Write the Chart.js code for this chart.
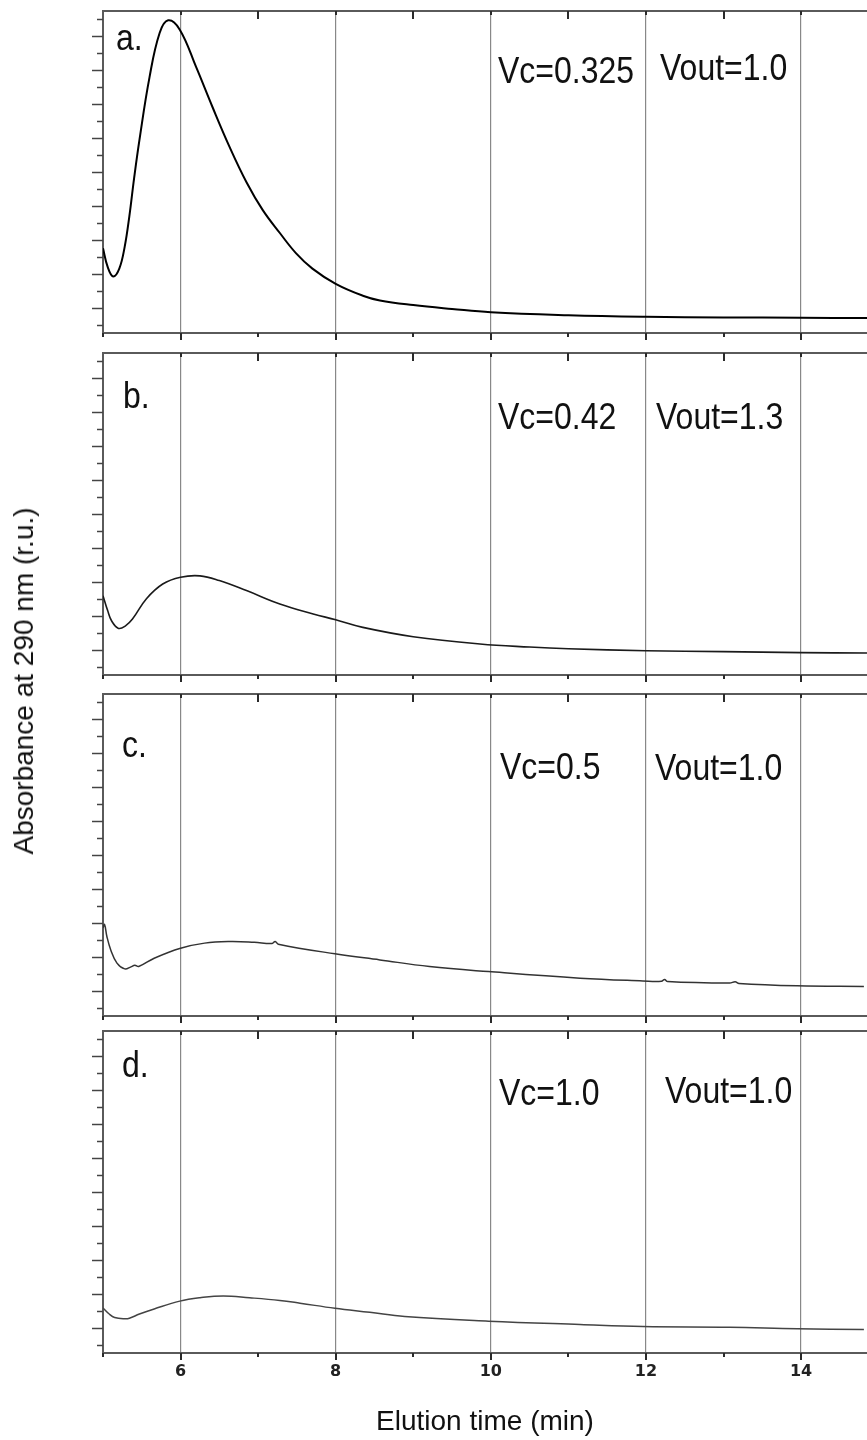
<!DOCTYPE html>
<html>
<head>
<meta charset="utf-8">
<script src="https://cdn.jsdelivr.net/npm/chart.js@4.4.1/dist/chart.umd.min.js"></script>
<style>
  html, body { margin: 0; padding: 0; background: #fff; }
  #wrap { position: relative; width: 867px; height: 1440px; overflow: hidden; }
  #wrap canvas { position: absolute; left: 0; }
  #ytitle {
    position: absolute; left: 24px; top: 681px;
    transform: translate(-50%, -50%) rotate(-90deg);
    font: 28px "Liberation Sans", Arial, sans-serif; color: #111; white-space: nowrap;
  }
</style>
</head>
<body>
<div id="wrap">
  <canvas id="panelA"></canvas>
  <canvas id="panelB"></canvas>
  <canvas id="panelC"></canvas>
  <canvas id="panelD"></canvas>
  <div id="ytitle">Absorbance at 290 nm (r.u.)</div>
</div>
<script>
// elution time (min) / absorbance (one unit = one minor tick)
const timeA = [5.0, 5.06, 5.13, 5.21, 5.28, 5.34, 5.4, 5.47, 5.6, 5.73, 5.84, 5.99, 6.2, 6.41, 6.63, 6.85, 7.06, 7.28, 7.49, 7.7, 8.0, 8.35, 8.57, 9.0, 9.5, 10, 11, 12, 13, 14, 14.85];
const absA  = [4.5, 3.4, 2.84, 3.3, 4.6, 6.4, 8.6, 10.9, 14.6, 17.2, 17.95, 17.4, 15.2, 12.85, 10.5, 8.4, 6.75, 5.4, 4.2, 3.3, 2.4, 1.7, 1.42, 1.15, 0.92, 0.72, 0.55, 0.46, 0.42, 0.4, 0.38];

const timeB = [5.0, 5.06, 5.11, 5.2, 5.29, 5.38, 5.56, 5.77, 6.0, 6.25, 6.5, 6.85, 7.28, 7.71, 8.0, 8.35, 9.0, 9.86, 10.5, 11, 12, 13, 14, 14.85];
const absB  = [4.18, 3.3, 2.7, 2.25, 2.4, 2.8, 4.0, 4.87, 5.27, 5.35, 5.07, 4.48, 3.69, 3.1, 2.76, 2.31, 1.76, 1.33, 1.15, 1.05, 0.93, 0.88, 0.82, 0.8];

const timeC = [5.0, 5.02, 5.05, 5.1, 5.18, 5.28, 5.36, 5.41, 5.46, 5.66, 6.0, 6.31, 6.63, 6.95, 7.18, 7.22, 7.26, 7.99, 8.57, 9.21, 9.97, 11.15, 11.96, 12.2, 12.24, 12.28, 13.08, 13.15, 13.2, 13.95, 14.81];
const absC  = [4.7, 4.9, 4.19, 3.4, 2.62, 2.28, 2.4, 2.5, 2.42, 2.91, 3.5, 3.8, 3.89, 3.85, 3.78, 3.9, 3.74, 3.17, 2.81, 2.42, 2.12, 1.73, 1.57, 1.55, 1.66, 1.53, 1.44, 1.52, 1.42, 1.28, 1.24];

const timeD = [5.0, 5.08, 5.15, 5.28, 5.34, 5.47, 5.66, 5.99, 6.25, 6.55, 6.89, 7.28, 7.54, 7.99, 8.44, 8.89, 9.97, 11.15, 11.96, 13.08, 13.95, 14.81];
const absD  = [2.16, 1.8, 1.6, 1.52, 1.55, 1.8, 2.1, 2.56, 2.76, 2.87, 2.76, 2.6, 2.44, 2.14, 1.9, 1.65, 1.38, 1.18, 1.06, 1.02, 0.93, 0.89];

const X_TICKS = [5, 6, 7, 8, 9, 10, 11, 12, 13, 14];
const Y_TICKS = [0, 1, 2, 3, 4, 5, 6, 7, 8, 9, 10, 11, 12, 13, 14, 15, 16, 17, 18];

const PANEL_TAGS  = ['a.', 'b.', 'c.', 'd.'];
const VC_LABELS   = ['Vc=0.325', 'Vc=0.42', 'Vc=0.5', 'Vc=1.0'];
const VOUT_LABELS = ['Vout=1.0', 'Vout=1.3', 'Vout=1.0', 'Vout=1.0'];

const times = [timeA, timeB, timeC, timeD];
const values = [absA, absB, absC, absD];

// layout
const ids = ['panelA', 'panelB', 'panelC', 'panelD'];
const panelTop = [11, 353, 694, 1031];
const PANEL_H = 322;
const PAD_TOP = 10;
const lineColors = ['#000', '#1a1a1a', '#333', '#444'];
const lineWidths = [2, 1.6, 1.5, 1.5];
// text placement: [x, dy from panel top]
const tagPos  = [[116, 39], [123, 55], [122, 63], [122, 46]];
const vcPos   = [[498, 72], [498, 76], [500, 85], [499, 74]];
const voutPos = [[660, 69], [656, 76], [655, 86], [665, 72]];

const FONT = '"Liberation Sans", Arial, sans-serif';

function stretchText(ctx, text, x, y) {
    ctx.save();
    ctx.translate(x, y);
    ctx.scale(1, 1.15);
    ctx.fillText(text, 0, 0);
    ctx.restore();
}

function framePlugin(i) {
    return {
        id: 'frame' + i,
        afterDraw(chart) {
            const {ctx, chartArea: a, scales: {x, y}} = chart;
            ctx.save();
            // top border
            ctx.strokeStyle = '#5a5a5a';
            ctx.lineWidth = 2;
            ctx.beginPath();
            ctx.moveTo(a.left - 1, a.top);
            ctx.lineTo(a.right, a.top);
            ctx.stroke();

            // x ticks: out at the bottom, in at the top
            ctx.strokeStyle = '#2a2a2a';
            ctx.lineWidth = 2;
            x.ticks.forEach(t => {
                const px = Math.round(x.getPixelForValue(t.value));
                const major = t.value % 2 === 0;
                ctx.beginPath();
                ctx.moveTo(px, a.bottom);
                ctx.lineTo(px, a.bottom + (major ? 7 : 4));
                if (t.value > 5) {
                    ctx.moveTo(px, a.top);
                    ctx.lineTo(px, a.top + (major ? 4 : 8));
                }
                ctx.stroke();
            });

            // y ticks: long on odd, short on even
            ctx.strokeStyle = '#444';
            ctx.lineWidth = 1.5;
            y.ticks.forEach(t => {
                const py = Math.round(y.getPixelForValue(t.value)) + 0.5;
                const len = t.value % 2 === 1 ? 11 : 6;
                ctx.beginPath();
                ctx.moveTo(a.left - len, py);
                ctx.lineTo(a.left, py);
                ctx.stroke();
            });

            // panel texts
            ctx.fillStyle = '#111';
            ctx.font = '32px ' + FONT;
            ctx.textBaseline = 'alphabetic';
            ctx.textAlign = 'left';
            stretchText(ctx, PANEL_TAGS[i], tagPos[i][0], a.top + tagPos[i][1]);
            stretchText(ctx, VC_LABELS[i], vcPos[i][0], a.top + vcPos[i][1]);
            stretchText(ctx, VOUT_LABELS[i], voutPos[i][0], a.top + voutPos[i][1]);
            ctx.restore();
        }
    };
}

function makePanel(i) {
    const last = i === 3;
    const canvas = document.getElementById(ids[i]);
    const bottomSpace = last ? 1440 - (panelTop[i] + PANEL_H) : 12;
    const h = PAD_TOP + PANEL_H + bottomSpace;
    canvas.width = 867;
    canvas.height = h;
    canvas.style.top = (panelTop[i] - PAD_TOP) + 'px';

    new Chart(canvas, {
        type: 'line',
        data: {
            datasets: [{
                data: times[i].map((t, k) => ({x: t, y: values[i][k]})),
                borderColor: lineColors[i],
                borderWidth: lineWidths[i],
                pointRadius: 0,
                tension: 0.4,
                fill: false
            }]
        },
        options: {
            responsive: false,
            animation: false,
            devicePixelRatio: 1,
            layout: { padding: { top: PAD_TOP, left: 0, right: 0, bottom: 0 } },
            plugins: { legend: { display: false }, tooltip: { enabled: false } },
            scales: {
                x: {
                    type: 'linear',
                    min: 5,
                    max: 14.85,
                    afterBuildTicks: s => { s.ticks = X_TICKS.map(v => ({value: v})); },
                    afterFit: s => { s.height = bottomSpace; },
                    grid: {
                        drawTicks: false,
                        lineWidth: 1.2,
                        color: c => (c.tick && c.tick.value % 2 === 0) ? '#888' : 'rgba(0,0,0,0)'
                    },
                    border: { display: true, color: '#5a5a5a', width: 2 },
                    ticks: {
                        display: last,
                        padding: 9,
                        autoSkip: false,
                        maxRotation: 0,
                        color: '#222',
                        font: { family: '"DejaVu Sans", sans-serif', size: 16, weight: 'bold' },
                        callback: v => (v % 2 === 0 ? String(v) : '')
                    },
                    title: {
                        display: last,
                        text: 'Elution time (min)',
                        color: '#111',
                        font: { family: FONT, size: 28 },
                        padding: { top: 0, bottom: 1 }
                    }
                },
                y: {
                    min: -0.5,
                    max: 18.5,
                    afterBuildTicks: s => { s.ticks = Y_TICKS.map(v => ({value: v})); },
                    afterFit: s => { s.width = 103; },
                    grid: { drawOnChartArea: false, drawTicks: false },
                    border: { display: true, color: '#5a5a5a', width: 2 },
                    ticks: { display: false }
                }
            }
        },
        plugins: [framePlugin(i)]
    });
}

[0, 1, 2, 3].forEach(makePanel);
</script>
</body>
</html>
